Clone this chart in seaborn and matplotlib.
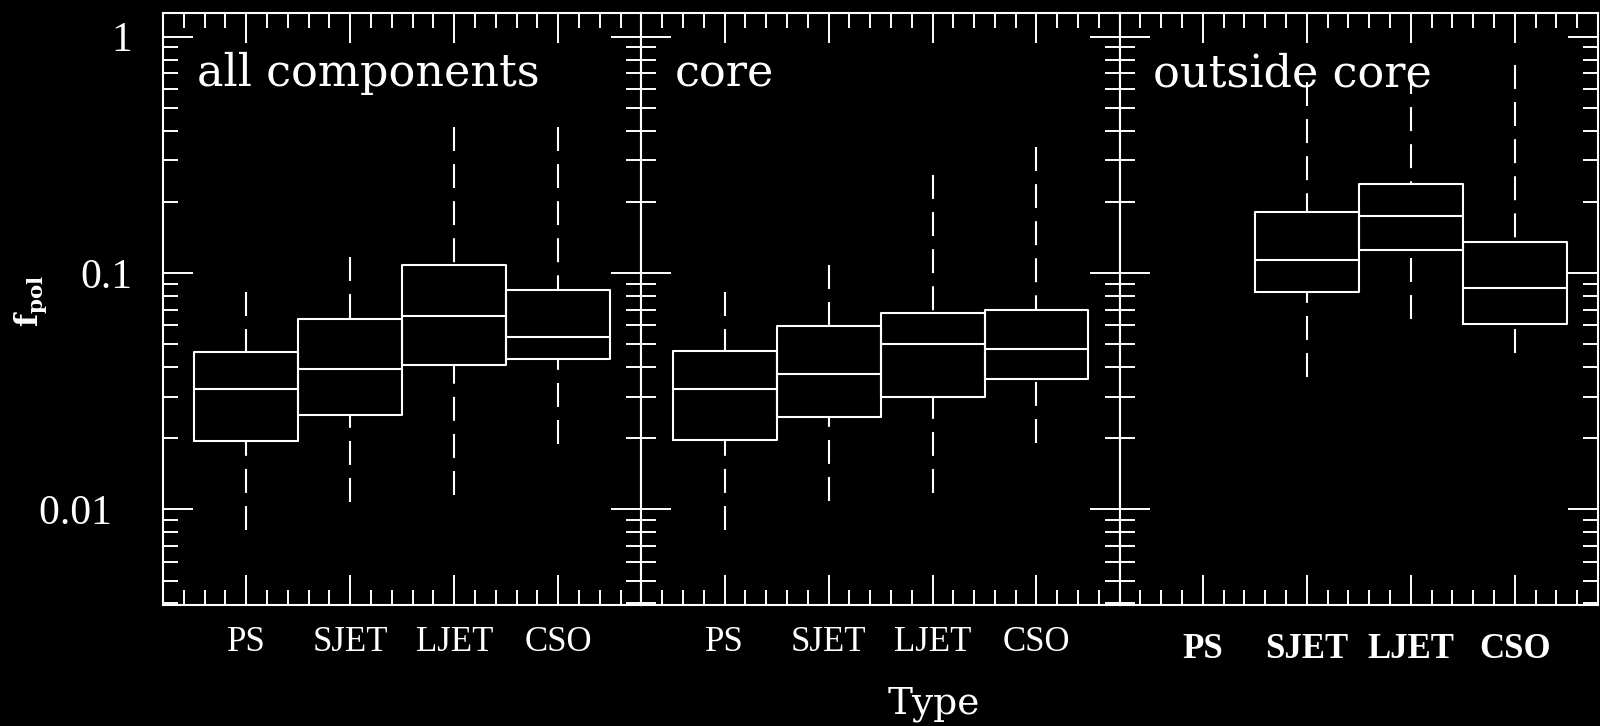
import numpy as np
import pandas as pd
import matplotlib
matplotlib.use("Agg")
import matplotlib.pyplot as plt
from matplotlib.ticker import (MultipleLocator, LogLocator, NullFormatter,
                               FixedLocator, FixedFormatter)
import seaborn as sns

# Source classes on the x axis
types = ["PS", "SJET", "LJET", "CSO"]

# Fractional polarisation box statistics: all components
all_lo = [0.0082, 0.0107, 0.0115, 0.0189]
all_q1 = [0.0195, 0.0250, 0.0409, 0.0431]
all_med = [0.0322, 0.0391, 0.0660, 0.0538]
all_q3 = [0.0465, 0.0639, 0.108, 0.0847]
all_hi = [0.0833, 0.117, 0.416, 0.416]

# Core components
core_lo = [0.0082, 0.0108, 0.0117, 0.0191]
core_q1 = [0.0196, 0.0245, 0.0300, 0.0356]
core_med = [0.0322, 0.0375, 0.0502, 0.0476]
core_q3 = [0.0466, 0.0596, 0.0676, 0.0695]
core_hi = [0.0835, 0.108, 0.259, 0.340]

# Components outside the core (no PS entries)
out_lo = [None, 0.0364, 0.0638, 0.0461]
out_q1 = [None, 0.0828, 0.125, 0.0610]
out_med = [None, 0.113, 0.174, 0.0866]
out_q3 = [None, 0.181, 0.237, 0.135]
out_hi = [None, 0.64, 0.72, 0.76]

panel_titles = ["all components", "core", "outside core"]
y_ticks = [0.01, 0.1, 1]
y_ticklabels = ["0.01  ", "0.1", "1"]


def panel_frame(lo, q1, med, q3, hi):
    rows = []
    for t, a, b, c, d, e in zip(types, lo, q1, med, q3, hi):
        if a is None:
            continue
        for v in (a, b, c, d, e):
            rows.append({"Type": t, "fpol": v})
    return pd.DataFrame(rows)


frames = [
    panel_frame(all_lo, all_q1, all_med, all_q3, all_hi),
    panel_frame(core_lo, core_q1, core_med, core_q3, core_hi),
    panel_frame(out_lo, out_q1, out_med, out_q3, out_hi),
]

sns.set_theme(style="ticks", rc={
    "figure.facecolor": "black",
    "axes.facecolor": "black",
    "axes.edgecolor": "white",
    "xtick.color": "white",
    "ytick.color": "white",
    "text.color": "white",
    "axes.labelcolor": "white",
    "mathtext.fontset": "dejavuserif",
})

fig, axes = plt.subplots(1, 3, figsize=(16, 7.26), dpi=100, sharey=True,
                         gridspec_kw=dict(wspace=0))
fig.subplots_adjust(left=0.1019, right=0.99875, bottom=0.1667, top=0.9817)

lw = 1.5
for i, (ax, df) in enumerate(zip(axes, frames)):
    sns.boxplot(data=df, x="Type", y="fpol", order=types, ax=ax,
                whis=(0, 100), width=1.0, fill=False, color="white",
                linewidth=lw, showcaps=False, showfliers=False,
                log_scale=True,
                whiskerprops=dict(linestyle=(0, (11.5, 6.3))))
    # draw dashed whiskers from their tips towards the box
    for line in ax.lines:
        if line.get_linestyle() not in ("-", "None", "", " "):
            x, y = line.get_data()
            line.set_data(np.asarray(x)[::-1], np.asarray(y)[::-1])

    ax.set_xlim(-0.8, 3.8)
    ax.set_xlabel("")
    ax.set_ylabel("")
    for sp in ax.spines.values():
        sp.set_visible(True)
        sp.set_color("white")
        sp.set_linewidth(lw)

    ax.xaxis.set_minor_locator(MultipleLocator(0.2))
    bold = (i == 2)
    ax.set_xticks(range(len(types)))
    ax.set_xticklabels(types, family="Liberation Serif", size=25,
                       weight="bold" if bold else "normal", color="white")
    ax.tick_params(axis="x", pad=20 if bold else 15)

    ax.text(0.07, 0.877, panel_titles[i], transform=ax.transAxes,
            family="DejaVu Serif", size=32, va="baseline", ha="left",
            color="white")

# shared log y axis: set after all panels so the scale setup does not reset it
ax0 = axes[0]
ax0.set_ylim(0.00394, 1.256)
ax0.yaxis.set_major_locator(FixedLocator(y_ticks))
ax0.yaxis.set_major_formatter(FixedFormatter(y_ticklabels))
ax0.yaxis.set_minor_locator(LogLocator(base=10, subs=np.arange(2, 10)))
ax0.yaxis.set_minor_formatter(NullFormatter())

for i, ax in enumerate(axes):
    ax.tick_params(axis="both", which="both", direction="in", top=True,
                   right=True, bottom=True, left=True, color="white", width=1.4)
    ax.tick_params(which="major", length=21.5)
    ax.tick_params(which="minor", length=10.5)
    if i == 0:
        ax.tick_params(axis="y", pad=22, labelsize=30,
                       labelfontfamily="Liberation Serif", labelcolor="white")
    else:
        ax.tick_params(axis="y", labelleft=False)

fig.text(934 / 1600, 1 - 704 / 726, "Type", ha="center", va="center",
         family="DejaVu Serif", size=27, color="white")
fig.text(31 / 1600, 1 - 301 / 726, r"$\mathbf{f_{pol}}$", rotation=90,
         ha="center", va="center", size=22, color="white")

fig.savefig("out.png", dpi=100, facecolor="black")
